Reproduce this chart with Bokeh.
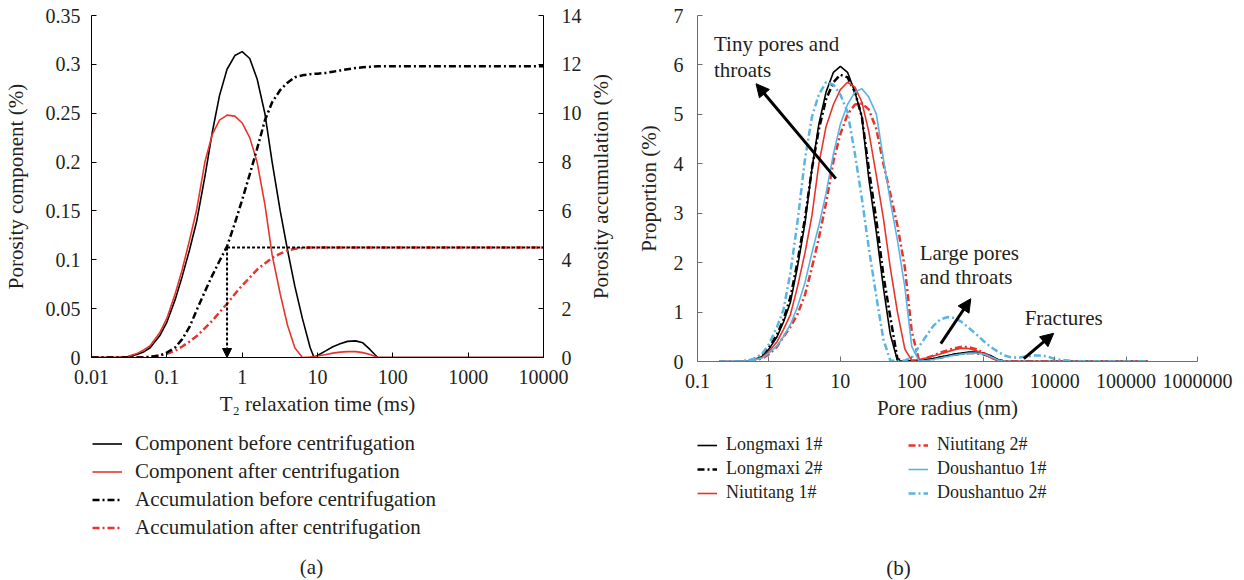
import math
from bokeh.plotting import figure
from bokeh.models import (Range1d, LinearAxis, FixedTicker, CustomJSTickFormatter,
                          Legend, LegendItem, Label, Arrow, NormalHead)
from bokeh.layouts import row, column
from bokeh.embed import file_html
from bokeh.resources import INLINE

FONT = "Liberation Serif"
FS_TICK = "20px"
FS = "21px"
FS_LEGB = "18px"
TXT = "#231f20"
RED = "#e8352b"
BLUE = "#5ab4e3"
DD = "7 3 2 3"

# ---------------- Panel (a) data ----------------
t2 = [0.01, 0.02, 0.03, 0.04, 0.05, 0.06, 0.08, 0.1, 0.13, 0.16, 0.2, 0.25, 0.32, 0.4, 0.5,
      0.63, 0.8, 1, 1.26, 1.58, 2, 2.5, 3.2, 4, 5, 6.3, 8, 9, 10, 13, 16, 20, 25, 32, 40, 50,
      63, 80, 100, 200, 500, 1000, 2000, 5000, 10000]
comp_before = [0, 0, 0.0005, 0.003, 0.006, 0.01, 0.022, 0.036, 0.06, 0.083, 0.11, 0.14, 0.185,
               0.23, 0.268, 0.295, 0.309, 0.313, 0.306, 0.285, 0.25, 0.2, 0.15, 0.11, 0.073,
               0.04, 0.01, 0.0, 0.002, 0.007, 0.011, 0.014, 0.0165, 0.017, 0.015, 0.008, 0.0,
               0, 0, 0, 0, 0, 0, 0, 0]
comp_after = [0, 0, 0.001, 0.004, 0.008, 0.012, 0.025, 0.04, 0.066, 0.09, 0.12, 0.152, 0.2,
              0.228, 0.243, 0.248, 0.247, 0.24, 0.225, 0.2, 0.157, 0.105, 0.065, 0.033, 0.01,
              0.0, 0.0005, 0.001, 0.0015, 0.003, 0.0045, 0.0055, 0.006, 0.006, 0.005, 0.003,
              0, 0, 0, 0, 0, 0, 0, 0, 0]
acc_before = [0, 0, 0, 0, 0.005, 0.02, 0.08, 0.2, 0.42, 0.75, 1.25, 1.95, 2.7, 3.35, 3.95,
              4.55, 5.5, 6.45, 7.5, 8.55, 9.7, 10.45, 10.95, 11.25, 11.47, 11.55, 11.6, 11.61,
              11.62, 11.65, 11.7, 11.75, 11.8, 11.85, 11.88, 11.9, 11.92, 11.92, 11.92, 11.92,
              11.92, 11.92, 11.92, 11.92, 11.92]
acc_after = [0, 0, 0, 0.003, 0.01, 0.03, 0.08, 0.15, 0.28, 0.45, 0.65, 0.88, 1.2, 1.5, 1.85,
             2.2, 2.6, 2.95, 3.27, 3.6, 3.85, 4.08, 4.25, 4.38, 4.45, 4.48, 4.5, 4.5, 4.5, 4.5,
             4.5, 4.5, 4.5, 4.5, 4.5, 4.5, 4.5, 4.5, 4.5, 4.5, 4.5, 4.5, 4.5, 4.5, 4.5]
guide_t2 = [0.63, 10000]
guide_acc = [4.5, 4.5]

a_xticks = [0.01, 0.1, 1, 10, 100, 1000, 10000]
a_yticks = [0, 0.05, 0.1, 0.15, 0.2, 0.25, 0.3, 0.35]
a_y2ticks = [0, 2, 4, 6, 8, 10, 12, 14]
a_labels = ["Component before centrifugation", "Component after centrifugation",
            "Accumulation before centrifugation", "Accumulation after centrifugation"]

# ---------------- Panel (b) data ----------------
radius = [0.2, 0.3, 0.4, 0.5, 0.6, 0.8, 1, 1.3, 1.6, 2, 2.5, 3.2, 4, 5, 6.3, 8, 10, 12.6, 16,
          20, 25, 32, 40, 50, 63, 80, 100, 126, 160, 200, 250, 320, 400, 500, 630, 800, 1000,
          1260, 1600, 2000, 2500, 3200, 4000, 5000, 6300, 8000, 10000, 20000, 50000, 100000,
          200000]
Z12 = [0] * 12
longmaxi1 = [0, 0, 0, 0.01, 0.03, 0.1, 0.25, 0.5, 0.8, 1.2, 1.9, 2.8, 3.9, 4.8, 5.45, 5.85,
             5.97, 5.85, 5.45, 4.95, 3.7, 2.6, 1.5, 0.55, 0.02, 0.0,
             0.01, 0.02, 0.04, 0.06, 0.09, 0.12, 0.15, 0.17, 0.19, 0.19, 0.17, 0.12, 0.04] + Z12
longmaxi2 = [0, 0, 0, 0.01, 0.04, 0.12, 0.28, 0.55, 0.85, 1.3, 2.0, 2.9, 3.9, 4.7, 5.3, 5.65,
             5.8, 5.75, 5.45, 4.95, 3.9, 2.85, 1.75, 0.9, 0.05, 0.0,
             0.01, 0.02, 0.03, 0.05, 0.08, 0.11, 0.14, 0.16, 0.17, 0.17, 0.15, 0.1, 0.03] + Z12
niutitang1 = [0, 0, 0, 0.01, 0.03, 0.08, 0.2, 0.4, 0.65, 0.95, 1.5, 2.2, 2.95, 4.0, 4.75, 5.2,
              5.5, 5.65, 5.55, 5.25, 4.65, 3.75, 2.9, 1.9, 1.0, 0.25,
              0.02, 0.04, 0.07, 0.11, 0.15, 0.2, 0.24, 0.27, 0.26, 0.22, 0.16, 0.08, 0.01] + Z12
niutitang2 = [0, 0, 0, 0.01, 0.02, 0.06, 0.15, 0.3, 0.5, 0.7, 0.95, 1.35, 1.9, 2.5, 3.2, 4.05,
              4.6, 5.0, 5.2, 5.22, 5.1, 4.7, 4.0, 3.4, 2.75, 1.9,
              0.6, 0.03, 0.07, 0.12, 0.18, 0.23, 0.27, 0.3, 0.29, 0.25, 0.18, 0.09, 0.02] + Z12
doushantuo1 = [0, 0, 0, 0.01, 0.02, 0.07, 0.17, 0.32, 0.5, 0.75, 1.1, 1.6, 2.2, 2.75, 3.4, 4.2,
               4.8, 5.2, 5.45, 5.52, 5.35, 5.0, 4.1, 3.25, 2.45, 1.5,
               0.3, 0.01, 0.02, 0.04, 0.07, 0.1, 0.13, 0.15, 0.17, 0.17, 0.15, 0.1, 0.03] + Z12
doushantuo2 = [0, 0, 0, 0.02, 0.05, 0.15, 0.35, 0.7, 1.05, 1.8, 2.8, 4.1, 4.95, 5.4, 5.65, 5.6,
               5.4, 5.05, 4.2, 3.3, 2.3, 1.3, 0.45, 0.02, 0.01, 0.02,
               0.08, 0.3, 0.52, 0.72, 0.85, 0.9, 0.88, 0.8, 0.68, 0.55, 0.42, 0.3, 0.2, 0.12,
               0.08, 0.08, 0.1, 0.12, 0.12, 0.1, 0.05, 0, 0, 0, 0]

b_xticks = [0.1, 1, 10, 100, 1000, 10000, 100000, 1000000]
b_yticks = [0, 1, 2, 3, 4, 5, 6, 7]
b_labels = ["Longmaxi 1#", "Longmaxi 2#", "Niutitang 1#",
            "Niutitang 2#", "Doushantuo 1#", "Doushantuo 2#"]

notes_text = ["Tiny pores and", "throats", "Large pores", "and throats", "Fractures"]
notes_x = [0.17, 0.17, 129, 129, 3800]
notes_y = [6.43, 5.89, 2.2, 1.7, 0.87]
arrows = [((8.65, 3.70), (0.66, 5.62)), ((255, 0.36), (670, 1.27)), ((3700, 0.06), (9700, 0.57))]

# dummy (off-range) data for legend swatches in the legend strips
swatch_x = [0, 1]
swatch_y = [-1, -1]

FMT = "return tick.toString();"


def style_axis(ax, ticks, color="#000000"):
    ax.ticker = FixedTicker(ticks=ticks)
    ax.formatter = CustomJSTickFormatter(code=FMT)
    ax.major_tick_in = 5
    ax.major_tick_out = 0
    ax.minor_tick_in = 0
    ax.minor_tick_out = 0
    ax.axis_line_color = color
    ax.major_tick_line_color = color
    ax.major_label_text_font = FONT
    ax.major_label_text_font_size = FS_TICK
    ax.major_label_text_color = TXT
    ax.axis_label_text_font = FONT
    ax.axis_label_text_font_size = FS
    ax.axis_label_text_font_style = "normal"
    ax.axis_label_text_color = TXT


def blank_fig(w, h, left, right, top=0, bottom=0):
    f = figure(width=w, height=h, x_range=Range1d(0, 1), y_range=Range1d(0, 1),
               output_backend="svg", toolbar_location=None, x_axis_location=None,
               y_axis_location=None, min_border_left=left, min_border_right=right,
               min_border_top=top, min_border_bottom=bottom)
    f.grid.visible = False
    f.outline_line_color = None
    return f


CH = 432   # chart figure height
LH = 148   # legend strip height
PA_W = 586
PT_W = 36

# ---------------- Figure (a) ----------------
pa = figure(width=PA_W, height=CH, x_axis_type="log", x_range=Range1d(0.01, 10000),
            y_range=Range1d(0, 0.35), output_backend="svg", toolbar_location=None,
            min_border_left=91, min_border_right=PA_W - 543, min_border_top=15,
            min_border_bottom=CH - 357)
pa.extra_y_ranges = {"acc": Range1d(0, 14)}
pa.grid.visible = False
pa.outline_line_color = None

style_axis(pa.xaxis[0], a_xticks)
style_axis(pa.yaxis[0], a_yticks)
pa.xaxis[0].axis_label = "T\u2082 relaxation time (ms)"
pa.yaxis[0].axis_label = "Porosity component (%)"
pa.xaxis[0].major_label_standoff = 12
pa.xaxis[0].axis_label_standoff = 5
pa.yaxis[0].major_label_standoff = 11
pa.yaxis[0].axis_label_standoff = 15

ax2 = LinearAxis(y_range_name="acc")
style_axis(ax2, a_y2ticks)
ax2.major_label_standoff = 18
pa.add_layout(ax2, "right")

pa.line(t2, comp_before, line_color="black", line_width=1.6)
pa.line(t2, comp_after, line_color=RED, line_width=1.6)
pa.line(t2, acc_after, line_color=RED, line_width=2.5, line_dash=DD, y_range_name="acc")
pa.line(t2, acc_before, line_color="black", line_width=2.5, line_dash=DD, y_range_name="acc")
pa.line(guide_t2, guide_acc, line_color="black", line_width=2, line_dash="3 2", y_range_name="acc")
pa.add_layout(Arrow(x_start=guide_t2[0], y_start=guide_acc[0], x_end=guide_t2[0], y_end=0,
                    y_range_name="acc", line_color="black", line_width=2, line_dash="3 2",
                    end=NormalHead(size=9, fill_color="black", line_color="black")))

# thin strip carrying the right-hand axis title (reads bottom-to-top)
pt = blank_fig(PT_W, CH, 0, 0, 15, CH - 357)
pt.add_layout(Label(x=14, y=(357 - 15) / 2, x_units="screen", y_units="screen",
                    text="Porosity accumulation (%)", angle=math.pi / 2,
                    text_align="center", text_baseline="middle", text_font=FONT,
                    text_font_size=FS, text_color=TXT))

la = blank_fig(622, LH, 91, 79)
a_styles = [("black", 1.6, "solid"), (RED, 1.6, "solid"), ("black", 2.5, DD), (RED, 2.5, DD)]
a_items = []
for lab, (c, w, d) in zip(a_labels, a_styles):
    r = la.line(swatch_x, swatch_y, line_color=c, line_width=w, line_dash=d)
    a_items.append(LegendItem(label=lab, renderers=[r]))
la.add_layout(Legend(items=a_items, location=(1, 40), border_line_color=None,
                     background_fill_alpha=0, label_text_font=FONT, label_text_font_size=FS,
                     label_text_color=TXT, glyph_width=30, glyph_height=21, label_height=21,
                     label_standoff=13, padding=0, margin=0, spacing=3))
la.add_layout(Label(x=220, y=14, x_units="screen", y_units="screen", text="(a)",
                    text_align="center", text_baseline="middle", text_font=FONT,
                    text_font_size=FS, text_color=TXT))

# ---------------- Figure (b) ----------------
pb = figure(width=622, height=CH, x_axis_type="log", x_range=Range1d(0.1, 1000000),
            y_range=Range1d(0, 7), output_backend="svg", toolbar_location=None,
            min_border_left=75, min_border_right=47, min_border_top=15,
            min_border_bottom=CH - 361)
pb.grid.visible = False
pb.outline_line_color = None
GRAY = "#6d6e71"
style_axis(pb.xaxis[0], b_xticks, GRAY)
style_axis(pb.yaxis[0], b_yticks, GRAY)
pb.xaxis[0].axis_label = "Pore radius (nm)"
pb.yaxis[0].axis_label = "Proportion (%)"
pb.xaxis[0].major_label_standoff = 12
pb.xaxis[0].axis_label_standoff = 5
pb.yaxis[0].major_label_standoff = 14
pb.yaxis[0].axis_label_standoff = 10

b_series = [longmaxi1, longmaxi2, niutitang1, niutitang2, doushantuo1, doushantuo2]
b_styles = [("black", 1.6, "solid"), ("black", 2.5, DD), (RED, 1.6, "solid"),
            (RED, 2.5, DD), (BLUE, 1.6, "solid"), (BLUE, 2.5, DD)]
for ys, (c, w, d) in zip(b_series, b_styles):
    pb.line(radius, ys, line_color=c, line_width=w, line_dash=d)

for tx, xx, yy in zip(notes_text, notes_x, notes_y):
    pb.add_layout(Label(x=xx, y=yy, text=tx, text_align="left", text_baseline="middle",
                        text_font=FONT, text_font_size=FS, text_color=TXT))
for (s, e) in arrows:
    pb.add_layout(Arrow(x_start=s[0], y_start=s[1], x_end=e[0], y_end=e[1],
                        line_color="black", line_width=3,
                        end=NormalHead(size=13, fill_color="black", line_color="black")))

lb = blank_fig(622, LH, 75, 47)
b_items = []
for lab, (c, w, d) in zip(b_labels, b_styles):
    r = lb.line(swatch_x, swatch_y, line_color=c, line_width=w, line_dash=d)
    b_items.append(LegendItem(label=lab, renderers=[r]))
common = dict(border_line_color=None, background_fill_alpha=0, label_text_font=FONT,
              label_text_font_size=FS_LEGB, label_text_color=TXT, glyph_width=20,
              glyph_height=20, label_height=20, label_standoff=9, padding=0, margin=0,
              spacing=3)
lb.add_layout(Legend(items=b_items[:3], location=(0, 77), **common))
lb.add_layout(Legend(items=b_items[3:], location=(211, 77), **common))
lb.add_layout(Label(x=201, y=13, x_units="screen", y_units="screen", text="(b)",
                    text_align="center", text_baseline="middle", text_font=FONT,
                    text_font_size=FS, text_color=TXT))

layout = row(column(row(pa, pt), la), column(pb, lb))
open("out.html", "w").write(file_html(layout, INLINE))
